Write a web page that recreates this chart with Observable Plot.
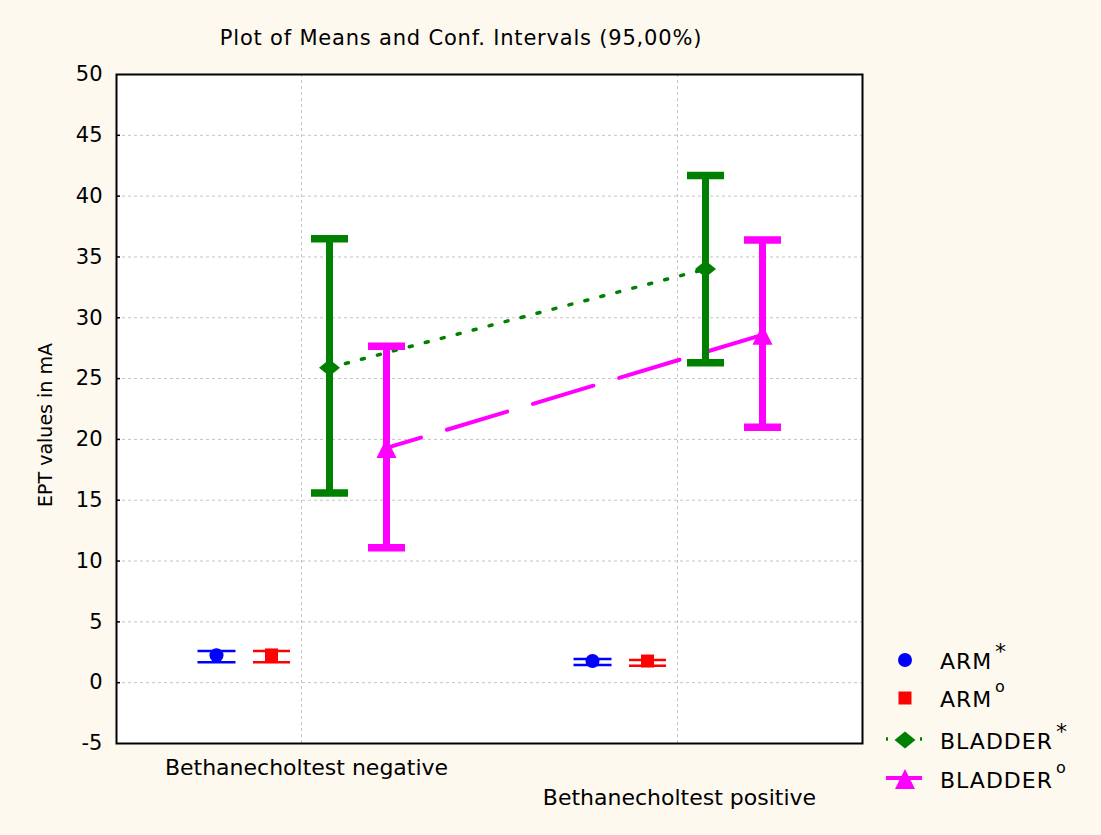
<!DOCTYPE html>
<html>
<head>
<meta charset="utf-8">
<script src="https://cdn.jsdelivr.net/npm/d3@7"></script>
<script src="https://cdn.jsdelivr.net/npm/@observablehq/plot@0.6"></script>
<style>
  html, body { margin: 0; padding: 0; background: #FEF9EF; }
  #chart { width: 1101px; height: 835px; }
</style>
</head>
<body>
<div id="chart"></div>
<script>
// ---- data ----
const categories = ["Bethanecholtest negative", "Bethanecholtest positive"];
const seriesNames = ["ARM*", "ARM°", "BLADDER*", "BLADDER°"];
const legendBase = ["ARM", "ARM", "BLADDER", "BLADDER"];
const legendSup = ["*", "o", "*", "o"];
const armStarMean = [2.25, 1.78];
const armStarLow = [1.68, 1.45];
const armStarHigh = [2.6, 1.95];
const armDegMean = [2.28, 1.78];
const armDegLow = [1.68, 1.4];
const armDegHigh = [2.6, 1.87];
const bladStarMean = [25.9, 34.0];
const bladStarLow = [15.6, 26.3];
const bladStarHigh = [36.5, 41.7];
const bladDegMean = [19.3, 28.6];
const bladDegLow = [11.1, 21.0];
const bladDegHigh = [27.65, 36.4];
const yTicks = [-5, 0, 5, 10, 15, 20, 25, 30, 35, 40, 45, 50];
const title = "Plot of Means and Conf. Intervals (95,00%)";
const yLabel = "EPT values in mA";

const means = [armStarMean, armDegMean, bladStarMean, bladDegMean];
const lows = [armStarLow, armDegLow, bladStarLow, bladDegLow];
const highs = [armStarHigh, armDegHigh, bladStarHigh, bladDegHigh];

const rows = [];
seriesNames.forEach((s, si) => categories.forEach((c, ci) =>
  rows.push({series: s, category: c, mean: means[si][ci], lo: lows[si][ci], hi: highs[si][ci]})));

// ---- symbols ----
const rectSym = (w, h) => ({draw(ctx) { ctx.moveTo(-w/2, -h/2); ctx.lineTo(w/2, -h/2); ctx.lineTo(w/2, h/2); ctx.lineTo(-w/2, h/2); ctx.closePath(); }});
const diamondSym = (w, h) => ({draw(ctx) { ctx.moveTo(0, -h/2); ctx.lineTo(w/2, 0); ctx.lineTo(0, h/2); ctx.lineTo(-w/2, 0); ctx.closePath(); }});
const triSym = (w, h) => ({draw(ctx) { ctx.moveTo(0, -h/2); ctx.lineTo(w/2, h/2); ctx.lineTo(-w/2, h/2); ctx.closePath(); }});
const circleSym = (r) => ({draw(ctx) { ctx.moveTo(r, 0); ctx.arc(0, 0, r, 0, 2 * Math.PI); ctx.closePath(); }});

const styles = {
  "ARM*":     {color: "#0000FF", dx: -85, barW: 2, cap: rectSym(38, 2.5), marker: circleSym(7), line: null},
  "ARM°":     {color: "#FF0000", dx: -30, barW: 2, cap: rectSym(37, 2.5), marker: rectSym(13, 13), line: null},
  "BLADDER*": {color: "#008000", dx: 28, barW: 7, cap: rectSym(37, 7.5), marker: diamondSym(21, 17), line: {strokeWidth: 3.5, strokeDasharray: "3,13.5", strokeDashoffset: 0}},
  "BLADDER°": {color: "#FF00FF", dx: 85, barW: 7, cap: rectSym(37, 7.5), marker: triSym(20, 20), line: {strokeWidth: 4, strokeDasharray: "63,27", strokeDashoffset: 27}}
};

const gridStyle = {stroke: "#c4c4c4", strokeOpacity: 1, strokeWidth: 1, strokeDasharray: "3,3"};

const marks = [
  Plot.frame({fill: "white", stroke: "none"}),
  Plot.gridY(yTicks.filter(t => t > -5 && t < 50), gridStyle),
  Plot.gridX(categories, gridStyle)
];
for (const s of seriesNames) {
  const st = styles[s];
  const data = rows.filter(r => r.series === s);
  if (st.line) marks.push(Plot.line(data, {x: "category", y: "mean", dx: st.dx, stroke: st.color, ...st.line}));
}
for (const s of seriesNames) {
  const st = styles[s];
  const data = rows.filter(r => r.series === s);
  marks.push(Plot.ruleX(data, {x: "category", y1: "lo", y2: "hi", dx: st.dx, stroke: st.color, strokeWidth: st.barW}));
  marks.push(Plot.dot(data, {x: "category", y: "hi", dx: st.dx, symbol: st.cap, fill: st.color, stroke: "none"}));
  marks.push(Plot.dot(data, {x: "category", y: "lo", dx: st.dx, symbol: st.cap, fill: st.color, stroke: "none"}));
  marks.push(Plot.dot(data, {x: "category", y: "mean", dx: st.dx, symbol: st.marker, fill: st.color, stroke: "none"}));
}
marks.push(
  Plot.tickY(yTicks.filter(t => t > -5 && t < 50), {y: d => d, insetRight: 742, stroke: "black", strokeWidth: 1.5}),
  Plot.axisY({ticks: yTicks, tickSize: 0, tickPadding: 14, fontSize: 21, label: null, tickFormat: d => String(d)}),
  Plot.axisX({ticks: [categories[0]], tickSize: 0, tickPadding: 16, fontSize: 22, label: null, dx: 5}),
  Plot.axisX({ticks: [categories[1]], tickSize: 0, tickPadding: 46, fontSize: 22, label: null, dx: 2}),
  Plot.frame({stroke: "black", strokeWidth: 2})
);

const chart = Plot.plot({
  width: 1101,
  height: 835,
  marginLeft: 116,
  marginRight: 239,
  marginTop: 74,
  marginBottom: 92,
  style: {background: "#FEF9EF", fontFamily: "DejaVu Sans", color: "black", overflow: "visible"},
  x: {type: "point", domain: categories, padding: 0.49},
  y: {domain: [-5, 50]},
  marks
});
document.getElementById("chart").appendChild(chart);

// ---- title, y label, legend ----
const svg = d3.select(chart);
svg.append("text").attr("x", 461).attr("y", 45).attr("text-anchor", "middle")
  .attr("font-family", "DejaVu Sans").attr("font-size", 21).attr("letter-spacing", 0.8)
  .attr("fill", "black").text(title);
svg.append("text").attr("transform", "translate(52,425) rotate(-90)").attr("text-anchor", "middle")
  .attr("font-family", "DejaVu Sans").attr("font-size", 19).attr("fill", "black").text(yLabel);

const legendY = [660, 698, 740, 779];
const lg = svg.append("g").attr("text-anchor", "start");
seriesNames.forEach((s, i) => {
  const st = styles[s];
  const y = legendY[i];
  if (st.line) {
    lg.append("line").attr("x1", 886).attr("x2", 922).attr("y1", y - 1).attr("y2", y - 1)
      .attr("stroke", st.color).attr("stroke-width", st.line.strokeWidth)
      .attr("stroke-dasharray", s === "BLADDER*" ? "2,32" : null);
  }
  lg.append("path").attr("transform", `translate(905,${y})`).attr("d", d3.symbol().type(st.marker)()).attr("fill", st.color);
  lg.append("text").attr("x", 940).attr("y", y + 9).attr("text-anchor", "start").attr("font-family", "DejaVu Sans")
    .attr("font-size", 22).attr("letter-spacing", 1).attr("fill", "black").text(legendBase[i]);
  const isStar = legendSup[i] === "*";
  lg.append("text").attr("x", legendBase[i] === "ARM" ? 995 : 1056).attr("y", isStar ? y - 1 : y - 6)
    .attr("text-anchor", "start")
    .attr("font-family", "DejaVu Sans").attr("font-size", isStar ? 22 : 16).attr("fill", "black").text(legendSup[i]);
});
</script>
</body>
</html>
